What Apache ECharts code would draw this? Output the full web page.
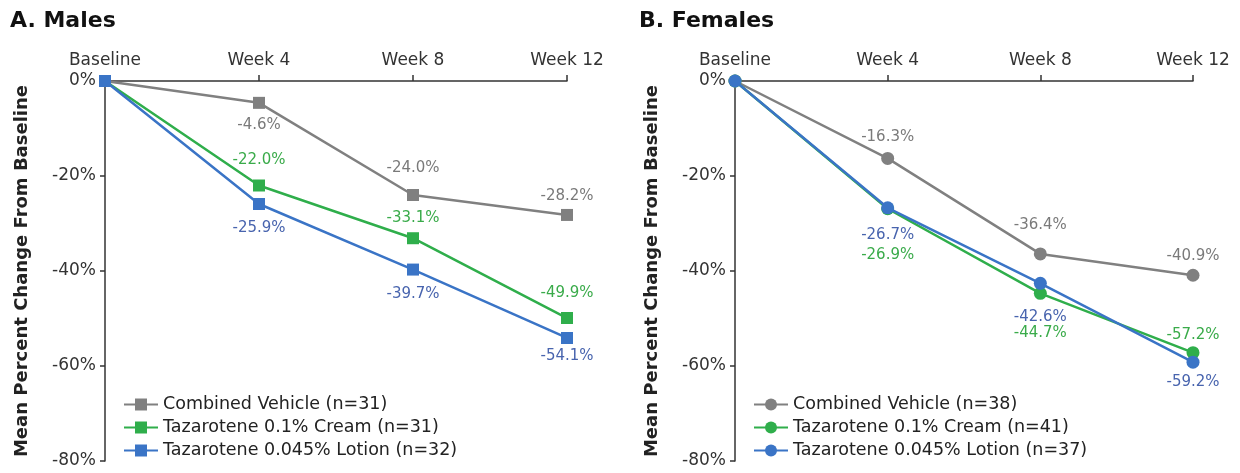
<!DOCTYPE html>
<html>
<head>
<meta charset="utf-8">
<script src="https://cdn.jsdelivr.net/npm/echarts@6/dist/echarts.min.js"></script>
<style>
html,body{margin:0;padding:0;background:#fff;}
#c{width:1240px;height:473px;}
</style>
</head>
<body>
<div id="c"></div>
<script>
const categories = ['Baseline', 'Week 4', 'Week 8', 'Week 12'];
const yTicks = [0, -20, -40, -60, -80];

const maleNames = ['Combined Vehicle (n=31)', 'Tazarotene 0.1% Cream (n=31)', 'Tazarotene 0.045% Lotion (n=32)'];
const maleVehicle = [0, -4.6, -24.0, -28.2];
const maleCream = [0, -22.0, -33.1, -49.9];
const maleLotion = [0, -25.9, -39.7, -54.1];

const femaleNames = ['Combined Vehicle (n=38)', 'Tazarotene 0.1% Cream (n=41)', 'Tazarotene 0.045% Lotion (n=37)'];
const femaleVehicle = [0, -16.3, -36.4, -40.9];
const femaleCream = [0, -26.9, -44.7, -57.2];
const femaleLotion = [0, -26.7, -42.6, -59.2];

// label vertical offsets (layout only, px relative to marker centre); null = no label
const maleLabelDy = [[null, 22, -27, -19], [null, -25, -20, -25], [null, 24, 25, 18]];
const femaleLabelDy = [[null, -21, -29, -19], [null, 46, 40, -18], [null, 27, 34, 20]];

const FONT = '"DejaVu Sans", "Liberation Sans", Arial, sans-serif';
const lineColors = ['#808080', '#2fae4b', '#3a74c6'];
const labelColors = ['#7a7a7a', '#3aab4a', '#4864ae'];

function mkSeries(name, values, idx, axisIdx, symbol, size, dys) {
  return {
    name: name,
    type: 'line',
    xAxisIndex: axisIdx,
    yAxisIndex: axisIdx,
    symbol: symbol,
    symbolSize: size,
    z: 2 + idx,
    lineStyle: { width: 2.5, color: lineColors[idx] },
    itemStyle: { color: lineColors[idx] },
    emphasis: { disabled: true },
    data: values.map((v, i) => {
      const d = { value: v };
      if (dys[i] === null) {
        d.label = { show: false };
      } else {
        d.label = {
          show: true, position: 'inside', offset: [0, dys[i]],
          formatter: v.toFixed(1) + '%',
          color: labelColors[idx], fontSize: 15, fontFamily: FONT
        };
      }
      return d;
    })
  };
}

function xAxisCfg(gi) {
  return {
    gridIndex: gi, type: 'category', data: categories, position: 'top', boundaryGap: false,
    axisLine: { lineStyle: { color: '#333', width: 1.5 } },
    axisTick: { show: true, length: 6, lineStyle: { color: '#333', width: 1.5 } },
    axisLabel: { color: '#333', fontSize: 17, fontFamily: FONT, margin: 12 },
    splitLine: { show: false }
  };
}
function yAxisCfg(gi) {
  return {
    gridIndex: gi, type: 'value', min: yTicks[yTicks.length - 1], max: yTicks[0], interval: 20,
    name: 'Mean Percent Change From Baseline', nameLocation: 'middle', nameRotate: 90, nameGap: 74,
    nameTextStyle: { color: '#222', fontSize: 18, fontWeight: 'bold', fontFamily: FONT },
    axisLine: { show: true, lineStyle: { color: '#333', width: 1.5 } },
    axisTick: { show: true, length: 5, lineStyle: { color: '#333', width: 1.5 } },
    axisLabel: { color: '#333', fontSize: 17, fontFamily: FONT, margin: 9, formatter: '{value}%' },
    splitLine: { show: false }
  };
}
function legendCfg(names, left) {
  return {
    data: names, orient: 'vertical', left: left, top: 390, itemWidth: 34, itemHeight: 15, itemGap: 4,
    textStyle: { color: '#222', fontSize: 17.5, fontFamily: FONT, lineHeight: 19 },
    selectedMode: false
  };
}

const series = [
  mkSeries(maleNames[0], maleVehicle, 0, 0, 'rect', 12, maleLabelDy[0]),
  mkSeries(maleNames[1], maleCream, 1, 0, 'rect', 12, maleLabelDy[1]),
  mkSeries(maleNames[2], maleLotion, 2, 0, 'rect', 12, maleLabelDy[2]),
  mkSeries(femaleNames[0], femaleVehicle, 0, 1, 'circle', 13, femaleLabelDy[0]),
  mkSeries(femaleNames[1], femaleCream, 1, 1, 'circle', 13, femaleLabelDy[1]),
  mkSeries(femaleNames[2], femaleLotion, 2, 1, 'circle', 13, femaleLabelDy[2])
];

const chart = echarts.init(document.getElementById('c'), null, { renderer: 'canvas' });
chart.setOption({
  animation: false,
  backgroundColor: '#fff',
  title: [
    { text: 'A. Males', left: 5, top: 5, textStyle: { fontSize: 22, fontWeight: 'bold', color: '#111', fontFamily: FONT } },
    { text: 'B. Females', left: 634, top: 5, textStyle: { fontSize: 22, fontWeight: 'bold', color: '#111', fontFamily: FONT } }
  ],
  grid: [
    { left: 105, top: 81, width: 462, height: 380 },
    { left: 735, top: 81, width: 458, height: 380 }
  ],
  xAxis: [xAxisCfg(0), xAxisCfg(1)],
  yAxis: [yAxisCfg(0), yAxisCfg(1)],
  legend: [legendCfg(maleNames, 118), legendCfg(femaleNames, 748)],
  series: series
});
</script>
</body>
</html>
